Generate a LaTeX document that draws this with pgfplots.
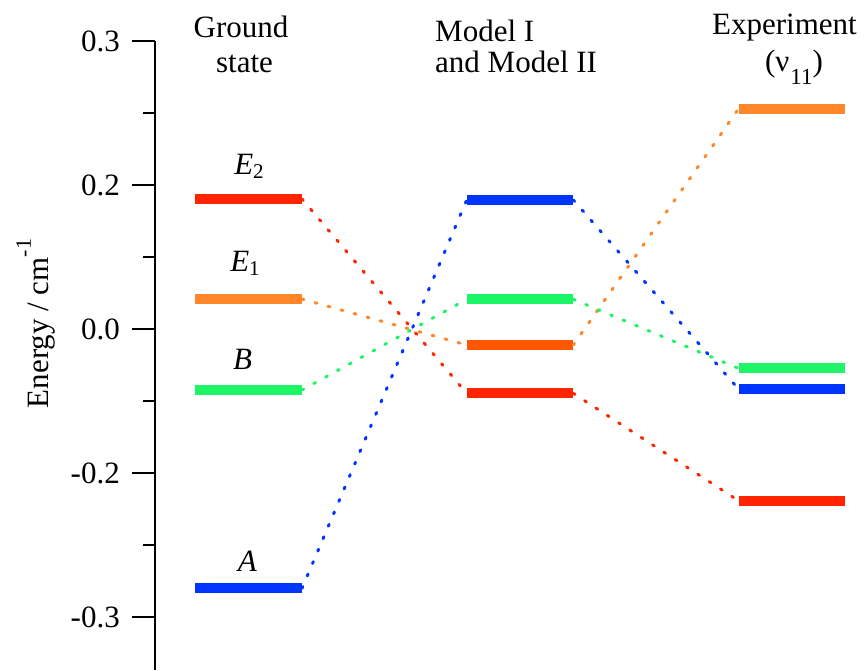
\documentclass[border=0pt]{standalone}
\usepackage{pgfplots}
\pgfplotsset{compat=1.18}
\usepackage{fontspec}
\setmainfont{Liberation Serif}
\definecolor{cRed}{RGB}{255,36,0}
\definecolor{cOrange}{RGB}{255,134,40}
\definecolor{cDkOrange}{RGB}{255,86,0}
\definecolor{cGreen}{RGB}{28,246,102}
\definecolor{cBlue}{RGB}{0,52,255}
\newcommand{\bigtxt}{\fontsize{31}{34}\selectfont}
\newcommand{\subtxt}{\fontsize{21}{21}\selectfont}
\begin{document}
\begin{tikzpicture}
\useasboundingbox (0pt,0pt) rectangle (866pt,670pt);
\begin{axis}[
  at={(155pt,0pt)}, anchor=south west,
  scale only axis, width=711pt, height=629.3pt,
  xmin=155, xmax=866, ymin=-2.368, ymax=2.002,
  axis y line=left, axis x line=none,
  y axis line style={-, line width=2.2pt, black},
  ytick={-2,-1,0,1,2},
  yticklabels={-0.3,-0.2,0.0,0.2,0.3},
  minor ytick={-1.5,-0.5,0.5,1.5},
  tick align=outside, ytick pos=left,
  major tick length=23pt, minor tick length=12pt,
  every tick/.style={line width=2.2pt, black},
  yticklabel style={font=\bigtxt, inner sep=0pt, xshift=-12pt},
  clip=false,
  bar/.style={line width=10pt, line cap=butt},
  dot/.style={line width=3pt, line cap=round, dash pattern=on 2pt off 11.5pt},
]
% Ground state levels
\addplot[cRed, bar] coordinates {(195,0.903) (302,0.903)};
\addplot[cOrange, bar] coordinates {(195,0.208) (302,0.208)};
\addplot[cGreen, bar] coordinates {(195,-0.424) (302,-0.424)};
\addplot[cBlue, bar] coordinates {(195,-1.801) (302,-1.801)};
% Model levels
\addplot[cBlue, bar] coordinates {(466.7,0.896) (573.3,0.896)};
\addplot[cGreen, bar] coordinates {(466.7,0.206) (573.3,0.206)};
\addplot[cDkOrange, bar] coordinates {(466.7,-0.111) (573.3,-0.111)};
\addplot[cRed, bar] coordinates {(466.7,-0.447) (573.3,-0.447)};
% Experiment levels
\addplot[cOrange, bar] coordinates {(738.5,1.528) (845,1.528)};
\addplot[cGreen, bar] coordinates {(738.5,-0.273) (845,-0.273)};
\addplot[cBlue, bar] coordinates {(738.5,-0.417) (845,-0.417)};
\addplot[cRed, bar] coordinates {(738.5,-1.192) (845,-1.192)};
% connectors
\addplot[cRed, dot] coordinates {(302,0.903) (466.7,-0.447)};
\addplot[cRed, dot] coordinates {(573.3,-0.447) (738.5,-1.192)};
\addplot[cOrange, dot] coordinates {(302,0.208) (466.7,-0.111)};
\addplot[cOrange, dot] coordinates {(573.3,-0.111) (738.5,1.528)};
\addplot[cGreen, dot] coordinates {(302,-0.424) (466.7,0.206)};
\addplot[cGreen, dot] coordinates {(573.3,0.206) (738.5,-0.273)};
\addplot[cBlue, dot] coordinates {(302,-1.801) (466.7,0.896)};
\addplot[cBlue, dot] coordinates {(573.3,0.896) (738.5,-0.417)};
\end{axis}
% headings
\node[anchor=base, inner sep=0pt, font=\bigtxt] at (241pt,632pt) {Ground};
\node[anchor=base, inner sep=0pt, font=\bigtxt] at (244.5pt,597.3pt) {state};
\node[anchor=base west, inner sep=0pt, font=\bigtxt] at (435pt,628.3pt) {Model I};
\node[anchor=base west, inner sep=0pt, font=\bigtxt] at (435pt,597.3pt) {and Model II};
\node[anchor=base, inner sep=0pt, font=\bigtxt] at (784.5pt,635pt) {Experiment};
\node[anchor=base, inner sep=0pt, font=\bigtxt] at (794pt,598pt) {(ν\hspace{1pt}\raisebox{-13pt}{\fontsize{23}{23}\selectfont 11})};
% level labels
\node[anchor=base, inner sep=0pt, font=\bigtxt] at (249pt,495.7pt) {\textit{E}\raisebox{-4pt}{\subtxt 2}};
\node[anchor=base, inner sep=0pt, font=\bigtxt] at (245pt,398.3pt) {\textit{E}\raisebox{-4pt}{\subtxt 1}};
\node[anchor=base, inner sep=0pt, font=\bigtxt] at (242.5pt,300.7pt) {\textit{B}};
\node[anchor=base, inner sep=0pt, font=\bigtxt] at (247.3pt,98.3pt) {\textit{A}};
% y label
\node[anchor=base, inner sep=0pt, font=\bigtxt, rotate=90] at (48pt,346.5pt) {Energy / cm\raisebox{17pt}{\fontsize{22}{22}\selectfont -1}};
\end{tikzpicture}
\end{document}
